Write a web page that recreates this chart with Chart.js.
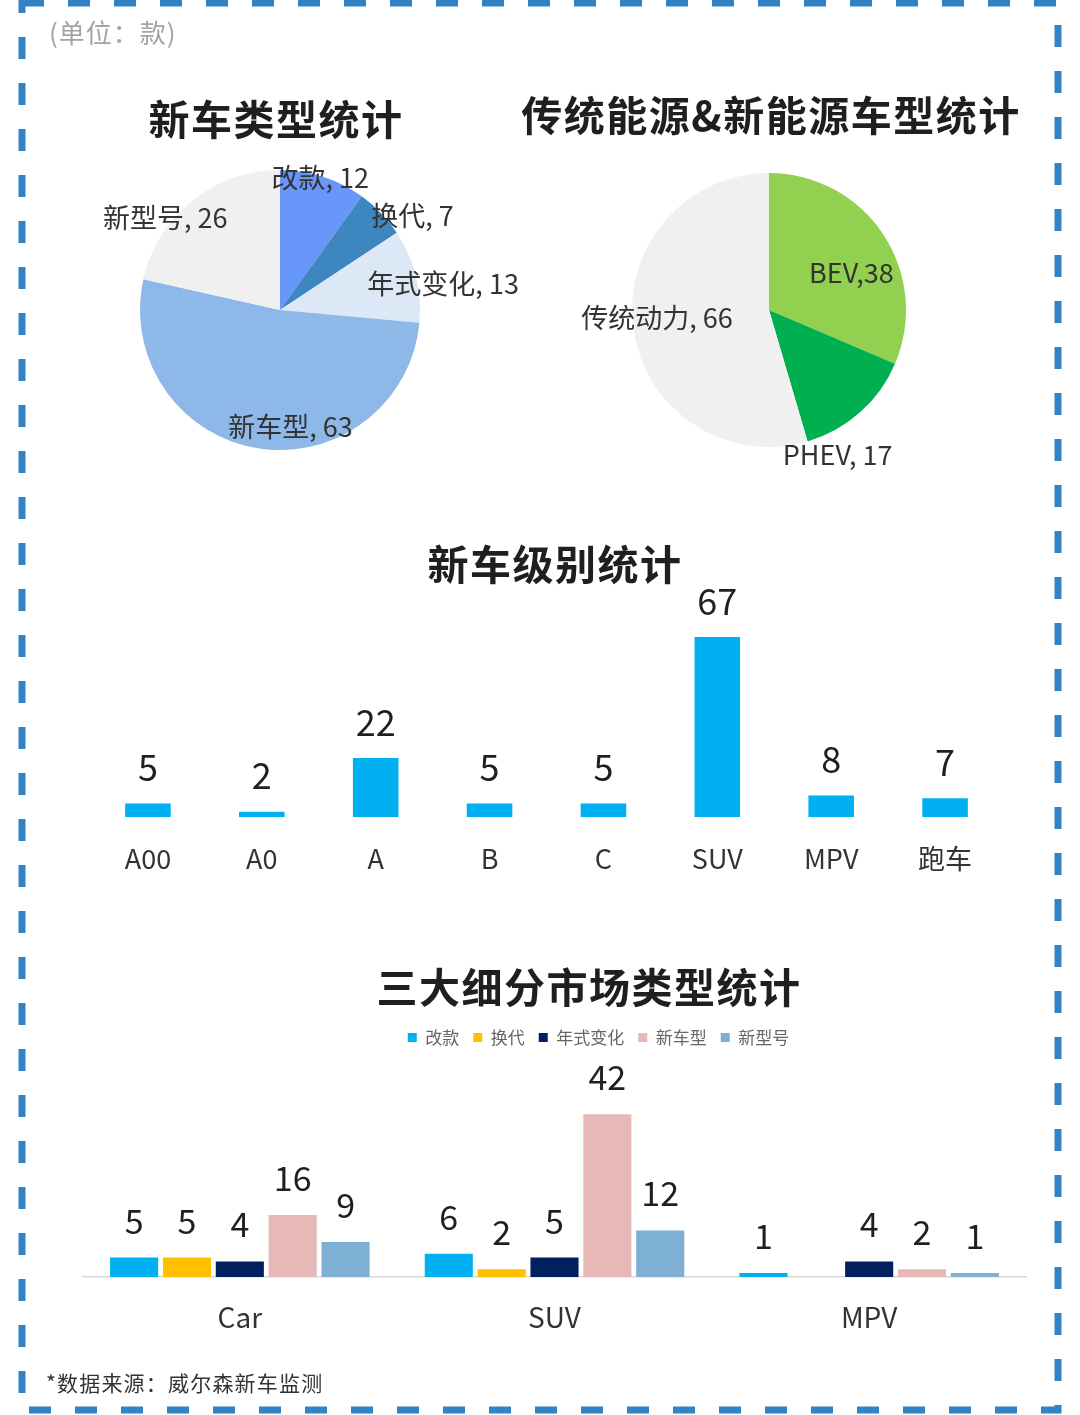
<!DOCTYPE html>
<html><head><meta charset="utf-8">
<script src="https://cdn.jsdelivr.net/npm/chart.js@4.4.1/dist/chart.umd.min.js"></script>
<style>
html,body{margin:0;padding:0;background:#fff;}
body{width:1080px;height:1415px;position:relative;overflow:hidden;font-family:"Noto Sans CJK SC","Noto Sans",sans-serif;}
.t{position:absolute;font-weight:bold;color:#1f1f1f;font-size:41px;white-space:nowrap;transform:translate(-50%,-50%);letter-spacing:1.5px;line-height:1}
canvas.c{position:absolute;}
</style></head><body>
<canvas id="frame" width="1080" height="1415" style="position:absolute;left:0;top:0"></canvas>
<div style="position:absolute;left:49px;top:16px;font-size:26px;line-height:1.2;color:#a3a3a3;letter-spacing:1px">(单位：款)</div>
<div class="t" style="left:276px;top:117px">新车类型统计</div>
<div class="t" style="left:771px;top:113px">传统能源&amp;新能源车型统计</div>
<div class="t" style="left:555px;top:562px">新车级别统计</div>
<div class="t" style="left:589px;top:985px">三大细分市场类型统计</div>
<div style="position:absolute;left:46px;top:1369px;font-size:21px;line-height:1.3;color:#333;letter-spacing:1.2px">*数据来源：威尔森新车监测</div>

<canvas class="c" id="pie1" style="left:30px;top:140px"></canvas>
<canvas class="c" id="pie2" style="left:540px;top:140px"></canvas>
<canvas class="c" id="bar1" style="left:40px;top:580px"></canvas>
<canvas class="c" id="bar2" style="left:40px;top:1015px"></canvas>

<script>
// ---------- data ----------
const typeLabels = ['改款', '换代', '年式变化', '新车型', '新型号'];
const typeValues = [12, 7, 13, 63, 26];

const energyLabels = ['BEV', 'PHEV', '传统动力'];
const energyValues = [38, 17, 66];

const levelLabels = ['A00', 'A0', 'A', 'B', 'C', 'SUV', 'MPV', '跑车'];
const levelValues = [5, 2, 22, 5, 5, 67, 8, 7];

const marketLabels = ['Car', 'SUV', 'MPV'];
const seriesGaikuan = [5, 6, 1];
const seriesHuandai = [5, 2, null];
const seriesNianshi = [4, 5, 4];
const seriesXincheXing = [16, 42, 2];
const seriesXinXinghao = [9, 12, 1];

// ---------- styles ----------
const FONT = '"Noto Sans CJK SC","Noto Sans",sans-serif';
const typeColors = ['#6797F8', '#3D86C0', '#DDE8F6', '#8EB8E8', '#F0F0F2'];
const energyColors = ['#92D050', '#00B050', '#F0F0F0'];
const typeLabelPlace = [[-1, 0.99], [8.6, 1.16], [5, 1.18], [-14, 0.84], [-12.6, 1.05]];
const energyLabelPlace = [[9.2, 0.66], [16.3, 1.17], [4.2, 0.82]];
const energySep = [',', ', ', ', '];

// ---------- frame ----------
(function(){
  const c = document.getElementById('frame').getContext('2d');
  c.strokeStyle = '#3282C4';
  c.lineWidth = 7;
  c.setLineDash([22, 24]);
  c.lineDashOffset = 0;
  c.strokeRect(22, 3, 1036, 1407);
})();

// ---------- plugins ----------
const pieLabelPlugin = {
  id: 'pieLabels',
  afterDatasetsDraw(chart, args, opts) {
    const ctx = chart.ctx;
    const meta = chart.getDatasetMeta(0);
    const ds = chart.data.datasets[0];
    ctx.save();
    ctx.font = '27px ' + FONT;
    ctx.fillStyle = '#333';
    ctx.textAlign = 'center';
    ctx.textBaseline = 'middle';
    meta.data.forEach((arc, i) => {
      const p = arc.getProps(['x', 'y', 'startAngle', 'endAngle', 'outerRadius'], true);
      const mid = (p.startAngle + p.endAngle) / 2 + opts.place[i][0] * Math.PI / 180;
      const r = p.outerRadius * opts.place[i][1];
      const sep = opts.sep ? opts.sep[i] : ', ';
      ctx.fillText(chart.data.labels[i] + sep + ds.data[i], p.x + Math.cos(mid) * r, p.y + Math.sin(mid) * r);
    });
    ctx.restore();
  }
};

const barValuePlugin = {
  id: 'barValues',
  afterDatasetsDraw(chart, args, opts) {
    const ctx = chart.ctx;
    ctx.save();
    ctx.font = opts.size + 'px ' + FONT;
    ctx.fillStyle = '#1f1f1f';
    ctx.textAlign = 'center';
    ctx.textBaseline = 'middle';
    chart.data.datasets.forEach((ds, di) => {
      const meta = chart.getDatasetMeta(di);
      meta.data.forEach((bar, i) => {
        const v = ds.data[i];
        if (v === null || v === undefined) return;
        ctx.fillText(String(v), bar.x, bar.y - opts.offset);
      });
    });
    ctx.restore();
  }
};

Chart.defaults.font.family = FONT;
Chart.defaults.animation = false;

function pie(id, w, h, pad, labels, values, colors, place, sep) {
  const el = document.getElementById(id);
  el.width = w; el.height = h;
  return new Chart(el, {
    type: 'pie',
    data: { labels, datasets: [{ data: values, backgroundColor: colors, borderWidth: 0 }] },
    options: {
      responsive: false,
      layout: { padding: pad },
      plugins: { legend: { display: false }, tooltip: { enabled: false }, pieLabels: { place, sep } }
    },
    plugins: [pieLabelPlugin]
  });
}

pie('pie1', 500, 340, { left: 110, right: 110, top: 30, bottom: 30 }, typeLabels, typeValues, typeColors, typeLabelPlace, null);
pie('pie2', 460, 340, { left: 92, right: 94, top: 33, bottom: 33 }, energyLabels, energyValues, energyColors, energyLabelPlace, energySep);

// ---------- level bar chart ----------
(function(){
  const el = document.getElementById('bar1');
  el.width = 1010; el.height = 320;
  new Chart(el, {
    type: 'bar',
    data: { labels: levelLabels, datasets: [{ data: levelValues, backgroundColor: '#00B0F0', categoryPercentage: 1, barPercentage: 0.4 }] },
    options: {
      responsive: false,
      layout: { padding: { left: 51, right: 48, top: 49, bottom: 0 } },
      plugins: { legend: { display: false }, tooltip: { enabled: false }, barValues: { size: 36, offset: 36 } },
      scales: {
        x: {
          grid: { display: false, drawTicks: false },
          border: { display: false },
          ticks: { color: '#333', font: { size: 27 }, padding: 26 },
          afterFit(s) { s.height = 83; }
        },
        y: { display: false, min: 0, max: 70 }
      }
    },
    plugins: [barValuePlugin]
  });
})();

// ---------- market grouped bar chart ----------
(function(){
  const el = document.getElementById('bar2');
  el.width = 1080; el.height = 345;
  const mk = (label, data, color) => ({ label, data, backgroundColor: color, categoryPercentage: 0.84, barPercentage: 0.91 });
  new Chart(el, {
    type: 'bar',
    data: {
      labels: marketLabels,
      datasets: [
        mk(typeLabels[0], seriesGaikuan, '#00B0F0'),
        mk(typeLabels[1], seriesHuandai, '#FFC000'),
        mk(typeLabels[2], seriesNianshi, '#002060'),
        mk(typeLabels[3], seriesXincheXing, '#E6B8B7'),
        mk(typeLabels[4], seriesXinXinghao, '#7EAFD5')
      ]
    },
    options: {
      responsive: false,
      layout: { padding: { left: 42.5, right: 5.5, top: 0, bottom: 0 } },
      plugins: {
        legend: {
          position: 'top',
          labels: { boxWidth: 9, boxHeight: 9, color: '#666', font: { size: 17 }, padding: 14 }
        },
        tooltip: { enabled: false },
        barValues: { size: 34, offset: 37 }
      },
      scales: {
        x: {
          grid: { display: false, drawTicks: false },
          border: { display: true, color: '#D9D9D9', width: 1.5 },
          ticks: { color: '#333', font: { size: 28 }, padding: 24 },
          afterFit(s) { s.height = 83; }
        },
        y: {
          position: 'right', min: 0, max: 57,
          grid: { display: false, drawTicks: false },
          border: { display: false },
          ticks: { display: false },
          afterFit(s) { s.width = 88; }
        }
      }
    },
    plugins: [barValuePlugin]
  });
})();
</script>
</body></html>
